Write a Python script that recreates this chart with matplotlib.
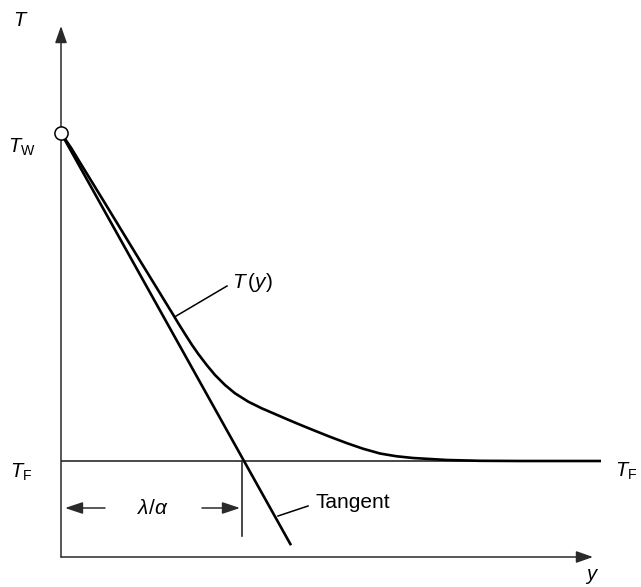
import matplotlib
matplotlib.use("Agg")
import matplotlib.pyplot as plt
import numpy as np

plt.rcParams['font.family'] = ['Liberation Sans', 'DejaVu Sans']
plt.rcParams['mathtext.fontset'] = 'custom'
plt.rcParams['mathtext.rm'] = 'Liberation Sans'
plt.rcParams['mathtext.it'] = 'Liberation Sans:italic'
plt.rcParams['mathtext.bf'] = 'Liberation Sans:bold'

# --- data (distance y, temperature T), arbitrary units ---
T_W = 4.24          # wall temperature
T_F = 0.96          # fluid temperature
lam_over_alpha = 1.83   # tangent intersection with T_F

curve_y = [0.00, 0.102, 0.193, 0.42, 0.603, 0.786, 0.97, 1.113, 1.173, 1.24,
           1.307, 1.373, 1.457, 1.54, 1.64, 1.74, 1.873, 2.007, 2.123, 2.29,
           2.39, 2.52, 2.69, 2.86, 3.02, 3.19, 3.35, 3.52, 3.86, 4.19, 4.59, 5.40]
curve_T = [4.24, 4.09, 3.94, 3.57, 3.27, 2.97, 2.67, 2.437, 2.337, 2.23,
           2.125, 2.03, 1.92, 1.82, 1.72, 1.637, 1.553, 1.487, 1.437, 1.365,
           1.323, 1.270, 1.202, 1.138, 1.083, 1.035, 1.008, 0.99, 0.97, 0.962,
           0.96, 0.96]

tangent_y = [0.00, 2.30]
tangent_T = [T_W, T_W - (T_W - T_F) / lam_over_alpha * 2.30]

y_axis_end = 5.32
T_axis_end = 5.31
TF_line_end = 5.40

fig = plt.figure(figsize=(6.41, 5.87), dpi=100)
ax = fig.add_axes([0, 0, 1, 1])
ax.set_xlim(-0.61, 5.80)
ax.set_ylim(-0.30, 5.57)
ax.axis('off')

axis_col = '#2a2a2a'
arrow_kw = dict(arrowstyle='-|>,head_length=0.85,head_width=0.3', lw=1.1,
                color=axis_col, shrinkA=0, shrinkB=0, mutation_scale=12)
# axes with arrows
ax.annotate('', xy=(0, T_axis_end), xytext=(0, 0), arrowprops=arrow_kw)
ax.annotate('', xy=(y_axis_end, 0), xytext=(0, 0), arrowprops=arrow_kw)

# T_F line
ax.plot([0, TF_line_end], [T_F, T_F], color=axis_col, lw=1.2, solid_capstyle='butt')

# curve and tangent
ax.plot(curve_y, curve_T, color='black', lw=1.9, solid_capstyle='butt',
        solid_joinstyle='round')
ax.plot(tangent_y, tangent_T, color='black', lw=1.9, solid_capstyle='butt')

# wall point
ax.plot([0], [T_W], marker='o', ms=9.5, mfc='white', mec='black', mew=1.1, zorder=5)

# lambda/alpha dimension
ax.plot([lam_over_alpha - 0.02, lam_over_alpha - 0.02], [T_F, 0.21], color=axis_col, lw=1.2)
dim_kw = dict(arrowstyle='-|>,head_length=0.9,head_width=0.3', lw=1.1,
              color=axis_col, shrinkA=0, shrinkB=0, mutation_scale=12)
ax.annotate('', xy=(0.04, 0.49), xytext=(0.44, 0.49), arrowprops=dim_kw)
ax.annotate('', xy=(1.79, 0.49), xytext=(1.41, 0.49), arrowprops=dim_kw)
ax.text(0.92, 0.49, r'$\lambda/\alpha$', ha='center', va='center', fontsize=15)

# leaders and labels
ax.plot([1.135, 1.66], [2.40, 2.71], color='black', lw=1.1)
ax.text(1.71, 2.75, r'$T\,(y)$', ha='left', va='center', fontsize=15)
ax.plot([2.17, 2.47], [0.41, 0.51], color='black', lw=1.1)
ax.text(2.55, 0.55, 'Tangent', ha='left', va='center', fontsize=15)

ax.text(-0.40, 5.37, r'$T$', ha='center', va='center', fontsize=14.5)
ax.text(-0.39, 4.10, r'$T_{\mathrm{W}}$', ha='center', va='center', fontsize=14.5)
ax.text(-0.40, 0.85, r'$T_{\mathrm{F}}$', ha='center', va='center', fontsize=14.5)
ax.text(5.65, 0.86, r'$T_{\mathrm{F}}$', ha='center', va='center', fontsize=14.5)
ax.text(5.31, -0.20, r'$y$', ha='center', va='center', fontsize=14.5)

fig.savefig('out.png', dpi=100)
